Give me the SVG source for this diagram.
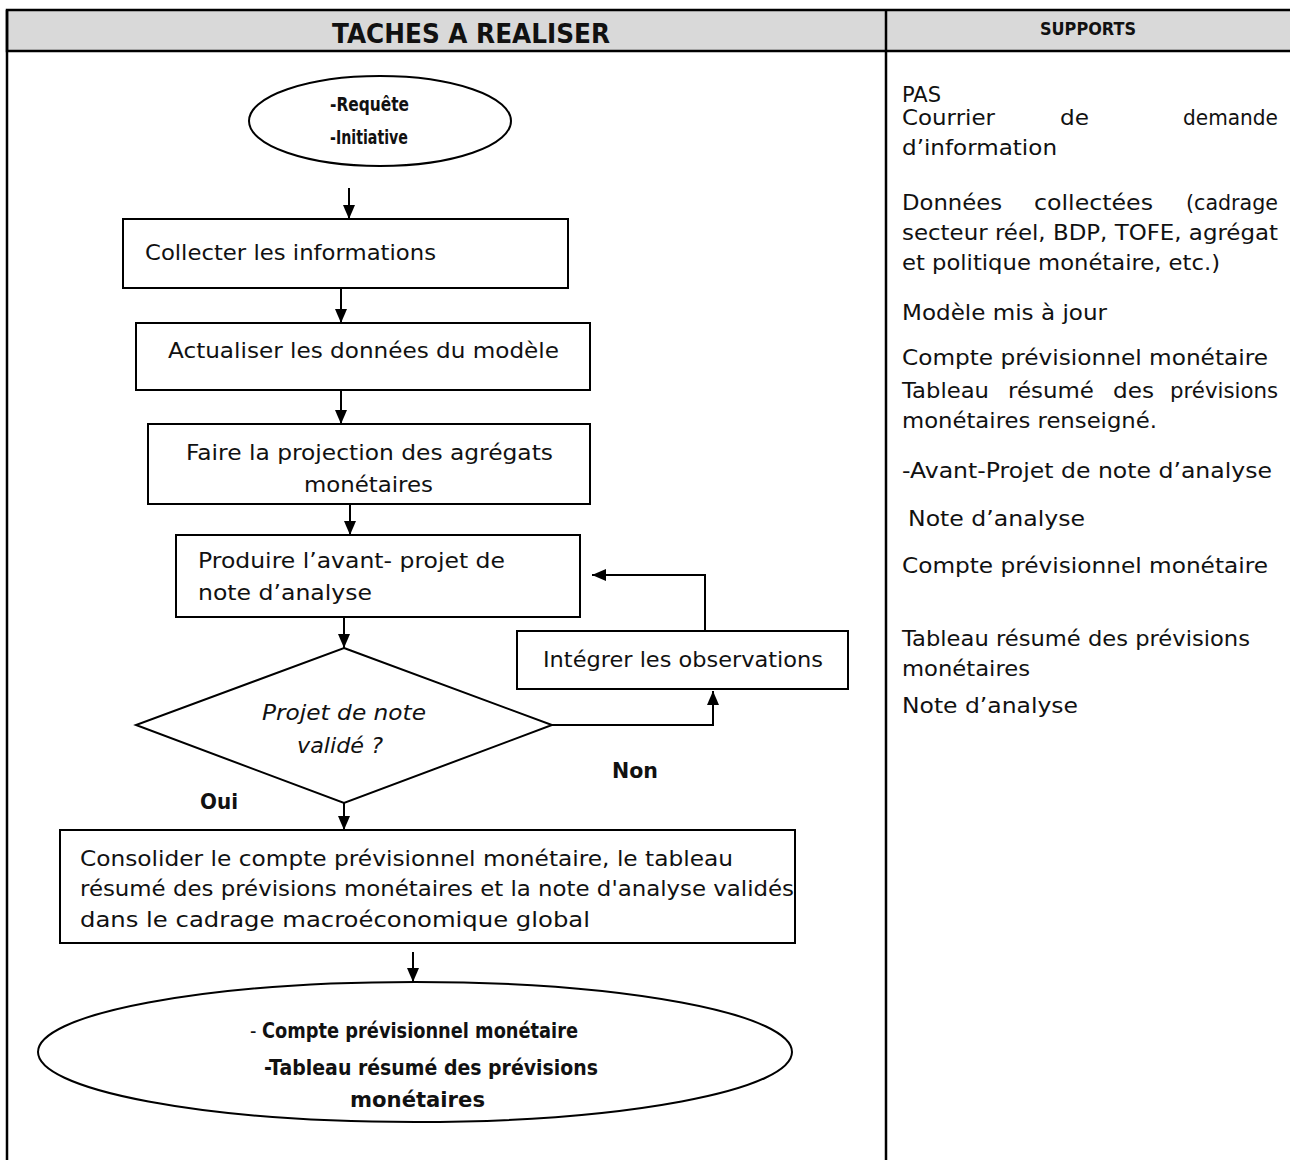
<svg xmlns="http://www.w3.org/2000/svg" width="1290" height="1160" viewBox="0 0 1290 1160">
  <style>
    .frame { fill: none; stroke: #000; stroke-width: 2.5; }
    .head { fill: #d9d9d9; stroke: #000; stroke-width: 2.5; }
    .box { fill: #fff; stroke: #000; stroke-width: 2; }
    .conn { fill: none; stroke: #000; stroke-width: 2; }
    text { font-family: "DejaVu Sans", "Liberation Sans", sans-serif; fill: #111; }
    .t { font-size: 21px; }
    .b { font-size: 21px; font-weight: bold; }
    .bs { font-size: 19px; font-weight: bold; }
    .i { font-size: 21px; font-style: italic; }
    .h1 { font-size: 27px; font-weight: bold; }
    .h2 { font-size: 17px; font-weight: bold; }
    .s { font-size: 21px; }
  </style>
  <defs>
    <marker id="arrow" viewBox="0 0 14 12" refX="14" refY="6" markerWidth="14" markerHeight="12" markerUnits="userSpaceOnUse" orient="auto">
      <path d="M0,0 L14,6 L0,12 z" fill="#000"/>
    </marker>
  </defs>

  <rect width="1290" height="1160" fill="#fff"/>

  <!-- table frame -->
  <g id="table">
    <rect class="head" x="7" y="10" width="1290" height="41"/>
    <line class="frame" x1="7" y1="10" x2="7" y2="1165"/>
    <line class="frame" x1="886" y1="10" x2="886" y2="1165"/>
    <text class="h1" x="471" y="43" text-anchor="middle" textLength="278" lengthAdjust="spacingAndGlyphs">TACHES A REALISER</text>
    <text class="h2" x="1088" y="35" text-anchor="middle" textLength="96" lengthAdjust="spacingAndGlyphs">SUPPORTS</text>
  </g>

  <!-- connectors -->
  <g id="connectors">
    <line class="conn" x1="349" y1="188" x2="349" y2="219" marker-end="url(#arrow)"/>
    <line class="conn" x1="341" y1="288" x2="341" y2="323" marker-end="url(#arrow)"/>
    <line class="conn" x1="341" y1="390" x2="341" y2="424" marker-end="url(#arrow)"/>
    <line class="conn" x1="350" y1="504" x2="350" y2="535" marker-end="url(#arrow)"/>
    <line class="conn" x1="344" y1="617" x2="344" y2="648" marker-end="url(#arrow)"/>
    <line class="conn" x1="344" y1="796" x2="344" y2="830" marker-end="url(#arrow)"/>
    <polyline class="conn" points="552,725 713,725 713,691" marker-end="url(#arrow)"/>
    <polyline class="conn" points="705,631 705,575 592,575" marker-end="url(#arrow)"/>
    <line class="conn" x1="413" y1="952" x2="413" y2="982" marker-end="url(#arrow)"/>
    <text class="b" x="612" y="778" textLength="46" lengthAdjust="spacingAndGlyphs">Non</text>
    <text class="b" x="200" y="809" textLength="38" lengthAdjust="spacingAndGlyphs">Oui</text>
  </g>

  <!-- flowchart nodes -->
  <g id="start">
    <ellipse class="box" cx="380" cy="121" rx="131" ry="45"/>
    <text class="bs" x="330" y="111" textLength="79" lengthAdjust="spacingAndGlyphs">-Requête</text>
    <text class="bs" x="330" y="144" textLength="78" lengthAdjust="spacingAndGlyphs">-Initiative</text>
  </g>

  <g id="collecter">
    <rect class="box" x="123" y="219" width="445" height="69"/>
    <text class="t" x="145" y="260" textLength="291" lengthAdjust="spacingAndGlyphs">Collecter les informations</text>
  </g>

  <g id="actualiser">
    <rect class="box" x="136" y="323" width="454" height="67"/>
    <text class="t" x="168" y="358" textLength="391" lengthAdjust="spacingAndGlyphs">Actualiser les données du modèle</text>
  </g>

  <g id="projection">
    <rect class="box" x="148" y="424" width="442" height="80"/>
    <text class="t" x="186" y="460" textLength="367" lengthAdjust="spacingAndGlyphs">Faire la projection des agrégats</text>
    <text class="t" x="304" y="492" textLength="129" lengthAdjust="spacingAndGlyphs">monétaires</text>
  </g>

  <g id="produire">
    <rect class="box" x="176" y="535" width="404" height="82"/>
    <text class="t" x="198" y="568" textLength="307" lengthAdjust="spacingAndGlyphs">Produire l’avant- projet de</text>
    <text class="t" x="198" y="600" textLength="174" lengthAdjust="spacingAndGlyphs">note d’analyse</text>
  </g>

  <g id="integrer">
    <rect class="box" x="517" y="631" width="331" height="58"/>
    <text class="t" x="543" y="667" textLength="280" lengthAdjust="spacingAndGlyphs">Intégrer les observations</text>
  </g>

  <g id="decision">
    <polygon class="box" points="344,648 552,725 344,803 136,725"/>
    <text class="i" x="344" y="720" text-anchor="middle" textLength="164" lengthAdjust="spacingAndGlyphs">Projet de note</text>
    <text class="i" x="340" y="753" text-anchor="middle" textLength="86" lengthAdjust="spacingAndGlyphs">validé ?</text>
  </g>

  <g id="consolider">
    <rect class="box" x="60" y="830" width="735" height="113"/>
    <text class="t" x="80" y="866" textLength="653" lengthAdjust="spacingAndGlyphs">Consolider le compte prévisionnel monétaire, le tableau</text>
    <text class="t" x="80" y="896" textLength="714" lengthAdjust="spacingAndGlyphs">résumé des prévisions monétaires et la note d'analyse validés</text>
    <text class="t" x="80" y="927" textLength="510" lengthAdjust="spacingAndGlyphs">dans le cadrage macroéconomique global</text>
  </g>

  <g id="fin">
    <ellipse class="box" cx="415" cy="1052" rx="377" ry="70"/>
    <text x="250" y="1038" textLength="328" lengthAdjust="spacingAndGlyphs"><tspan class="t">- </tspan><tspan class="b">Compte prévisionnel monétaire</tspan></text>
    <text class="b" x="264" y="1075" textLength="334" lengthAdjust="spacingAndGlyphs">-Tableau résumé des prévisions</text>
    <text class="b" x="350" y="1107" textLength="135" lengthAdjust="spacingAndGlyphs">monétaires</text>
  </g>

  <!-- supports column (justified lines are set word by word) -->
  <g id="supports">
    <text class="s" x="902" y="102">PAS</text>
    <text class="s" x="902" y="125" textLength="93" lengthAdjust="spacingAndGlyphs">Courrier</text>
    <text class="s" x="1060" y="125" textLength="29" lengthAdjust="spacingAndGlyphs">de</text>
    <text class="s" x="1278" y="125" text-anchor="end" textLength="95" lengthAdjust="spacingAndGlyphs">demande</text>
    <text class="s" x="902" y="155" textLength="155" lengthAdjust="spacingAndGlyphs">d’information</text>
    <text class="s" x="902" y="210" textLength="100" lengthAdjust="spacingAndGlyphs">Données</text>
    <text class="s" x="1034" y="210" textLength="119" lengthAdjust="spacingAndGlyphs">collectées</text>
    <text class="s" x="1278" y="210" text-anchor="end" textLength="92" lengthAdjust="spacingAndGlyphs">(cadrage</text>
    <text class="s" x="902" y="240" textLength="376" lengthAdjust="spacingAndGlyphs">secteur réel, BDP, TOFE, agrégat</text>
    <text class="s" x="902" y="270" textLength="318" lengthAdjust="spacingAndGlyphs">et politique monétaire, etc.)</text>
    <text class="s" x="902" y="320" textLength="205" lengthAdjust="spacingAndGlyphs">Modèle mis à jour</text>
    <text class="s" x="902" y="365" textLength="366" lengthAdjust="spacingAndGlyphs">Compte prévisionnel monétaire</text>
    <text class="s" x="902" y="398" textLength="87" lengthAdjust="spacingAndGlyphs">Tableau</text>
    <text class="s" x="1008" y="398" textLength="86" lengthAdjust="spacingAndGlyphs">résumé</text>
    <text class="s" x="1113" y="398" textLength="41" lengthAdjust="spacingAndGlyphs">des</text>
    <text class="s" x="1278" y="398" text-anchor="end" textLength="108" lengthAdjust="spacingAndGlyphs">prévisions</text>
    <text class="s" x="902" y="428" textLength="255" lengthAdjust="spacingAndGlyphs">monétaires renseigné.</text>
    <text class="s" x="902" y="478" textLength="370" lengthAdjust="spacingAndGlyphs">-Avant-Projet de note d’analyse</text>
    <text class="s" x="908" y="526" textLength="177" lengthAdjust="spacingAndGlyphs">Note d’analyse</text>
    <text class="s" x="902" y="573" textLength="366" lengthAdjust="spacingAndGlyphs">Compte prévisionnel monétaire</text>
    <text class="s" x="902" y="646" textLength="348" lengthAdjust="spacingAndGlyphs">Tableau résumé des prévisions</text>
    <text class="s" x="902" y="676" textLength="128" lengthAdjust="spacingAndGlyphs">monétaires</text>
    <text class="s" x="902" y="713" textLength="176" lengthAdjust="spacingAndGlyphs">Note d’analyse</text>
  </g>
</svg>
